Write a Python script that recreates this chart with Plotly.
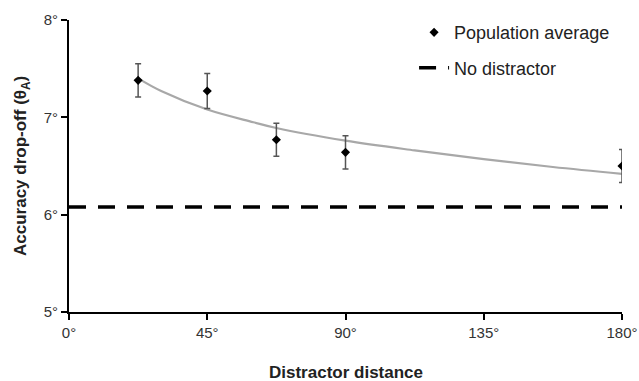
import plotly.graph_objects as go

# Data
dist = [22.5, 45, 67.5, 90, 180]
acc = [7.38, 7.27, 6.77, 6.64, 6.50]
err = [0.17, 0.18, 0.17, 0.17, 0.17]

fit_x = [22.5, 30, 45, 60, 67.5, 90, 112.5, 135, 157.5, 180]
fit_y = [7.40, 7.27, 7.08, 6.95, 6.89, 6.76, 6.66, 6.57, 6.49, 6.42]

nodist_x = [0, 180]
nodist_y = [6.08, 6.08]

xticks = [0, 45, 90, 135, 180]
xlabels = ["0°", "45°", "90°", "135°", "180°"]
yticks = [5, 6, 7, 8]
ylabels = ["5°", "6°", "7°", "8°"]

fig = go.Figure()
fig.add_trace(go.Scatter(x=fit_x, y=fit_y, mode="lines", line=dict(color="#a8a8a8", width=2.2, shape="spline"),
                         showlegend=False, hoverinfo="skip"))
fig.add_trace(go.Scatter(x=nodist_x, y=nodist_y, mode="lines", name="No distractor", legendgroup="b",
                         legendrank=2, line=dict(color="black", width=3.5, dash="17px,12px")))
fig.add_trace(go.Scatter(x=dist, y=acc, mode="markers", name="Population average", legendgroup="a",
                         legendrank=1, marker=dict(symbol="diamond", size=7, color="black"),
                         error_y=dict(type="data", array=err, color="#555555", thickness=1.5, width=3)))

fig.update_layout(
    width=639, height=381,
    margin=dict(l=69, r=17, t=20, b=69),
    plot_bgcolor="white", paper_bgcolor="white",
    font=dict(family="Liberation Sans, Arial, sans-serif", size=15, color="#333333"),
    xaxis=dict(range=[0, 180], tickvals=xticks, ticktext=xlabels, showline=True, linecolor="black",
               linewidth=2, ticks="outside", ticklen=6, tickwidth=2, tickcolor="black", showgrid=False,
               zeroline=False, automargin=False),
    yaxis=dict(range=[5, 8], tickvals=yticks, ticktext=ylabels, showline=True, linecolor="black",
               linewidth=2, ticks="outside", ticklen=6, tickwidth=2, tickcolor="black", showgrid=False,
               zeroline=False, automargin=False),
    legend=dict(x=0.624, y=1.02, xanchor="left", yanchor="top", traceorder="grouped",
                font=dict(size=18, color="#222222"), bgcolor="rgba(0,0,0,0)", tracegroupgap=9,
                itemwidth=30),
    annotations=[
        dict(text="<b>Distractor distance</b>", xref="paper", yref="paper", x=0.5, y=0,
             xanchor="center", yanchor="middle", yshift=-60, showarrow=False,
             font=dict(size=17, color="#222222")),
        dict(text="<b>Accuracy drop-off (θ<sub>A</sub>)</b>", xref="paper", yref="paper", x=0, y=0.5,
             xanchor="center", yanchor="middle", xshift=-47, textangle=-90, showarrow=False,
             font=dict(size=17, color="#222222")),
    ],
)

fig.write_html("out.html")
